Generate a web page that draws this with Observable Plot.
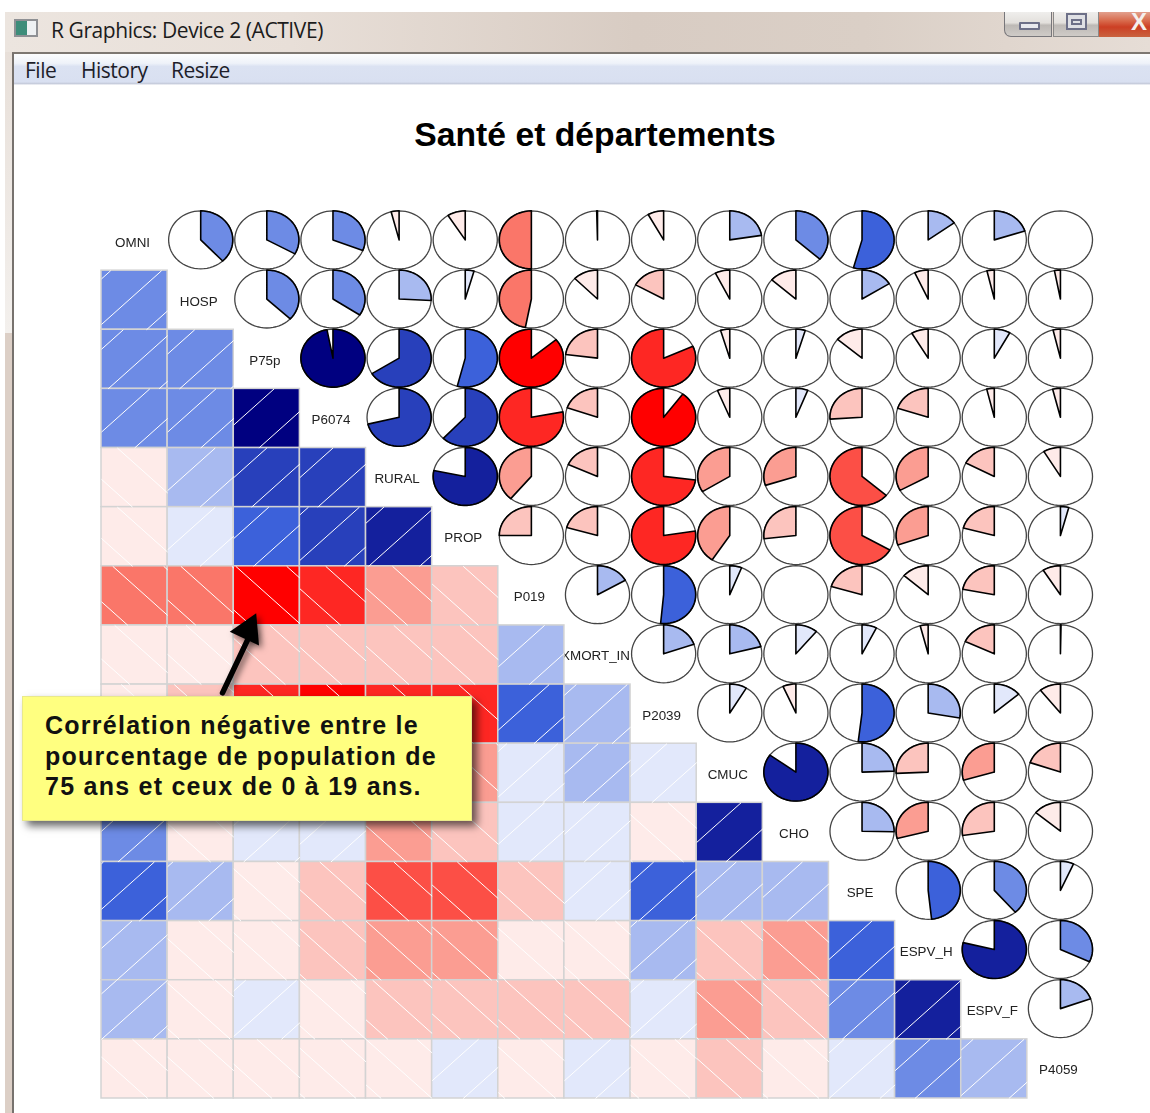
<!DOCTYPE html>
<html lang="fr">
<head>
<meta charset="utf-8">
<script src="https://cdn.jsdelivr.net/npm/d3@7"></script>
<script src="https://cdn.jsdelivr.net/npm/@observablehq/plot@0.6"></script>
<style>
  html, body { margin: 0; padding: 0; background: #fff; }
  #page { position: relative; width: 1150px; height: 1113px; overflow: hidden; font-family: "Liberation Sans", Arial, sans-serif; }
  #page > * { position: absolute; }
  #bandTop { left: 5px; top: 12px; width: 7px; height: 321px; background: linear-gradient(#e6ddd6, #f3f0ed); }
  #bandLow { left: 5px; top: 333px; width: 7px; height: 780px; background: #dccfc6; }
  #edge { left: 12px; top: 53px; width: 1.5px; height: 1060px; background: #77726e; }
  #titlebar { left: 5px; top: 12px; width: 1145px; height: 40px;
    background: linear-gradient(90deg, #ece5df 0, #e8dfd8 25%, #d8ccc3 55%, #dacfc6 75%, #e6ddd6 100%); }
  #titleline { left: 12px; top: 52px; width: 1138px; height: 2px; background: #7d7771; }
  #appicon { left: 14px; top: 19px; width: 24px; height: 18px; background: linear-gradient(90deg, #3d8d7a 0 55%, #eef1f3 55%); border: 2px solid #8e9094; box-sizing: border-box; }
  #wintitle { left: 51px; top: 18px; font: 21px "Open Sans", sans-serif; color: #1c1c1c; letter-spacing: -0.42px; white-space: nowrap; line-height: 24px; }
  #menubar { left: 13.5px; top: 54px; width: 1137px; height: 31px; background: linear-gradient(#fcfdfe 0, #eef2f9 30%, #dbe2f2 40%, #d9e0f1 90%, #c4cada 96%, #fff 100%); }
  .menu { top: 58px; font: 21px "Open Sans", sans-serif; color: #1e1e2a; letter-spacing: -0.5px; line-height: 24px; white-space: nowrap; }
  .btn { top: 12px; height: 25px; box-sizing: border-box; }
  #bmin { left: 1004px; width: 48px; border: 1px solid #77767a; border-top: 0; border-radius: 0 0 0 7px; background: linear-gradient(#efeeec 0, #e3e0dc 45%, #bdb9b5 55%, #cfcbc7 100%); }
  #bmax { left: 1053px; width: 46px; border: 1px solid #8a8988; border-top: 0; background: linear-gradient(#efeeec 0, #e3e0dc 45%, #bdb9b5 55%, #cfcbc7 100%); }
  #bclose { left: 1099px; width: 51px; background: linear-gradient(#e2a08d 0, #d86a4c 35%, #cc3f24 60%, #c9623f 100%); }
  #imin { left: 1019px; top: 22px; width: 21px; height: 8px; box-sizing: border-box; border: 2px solid #6d7088; background: #e8e9ee; border-radius: 1px; }
  #imax { left: 1066px; top: 13px; width: 21px; height: 17px; box-sizing: border-box; border: 2px solid #6d7088; background: #dfe0e4; }
  #imax2 { left: 1071px; top: 19px; width: 11px; height: 6px; box-sizing: border-box; border: 2px solid #6d7088; }
  #ix { left: 1131px; top: 7px; color: #f4f0ee; font: bold 24px "Liberation Sans", sans-serif; line-height: 30px; }
  #title { left: 295px; width: 600px; top: 114px; text-align: center; font: bold 33.7px/40px "Liberation Sans", Arial, sans-serif; color: #000; }
  #chart { left: 0; top: 0; }
  #chart svg { display: block; filter: blur(0.35px); }
  #chart svg g[aria-label="arrow"], #chart svg g[aria-label="dot"] { filter: drop-shadow(3px 3px 3px rgba(0,0,0,.55)); }
  #note { left: 22px; top: 696px; width: 450px; height: 125px; background: #ffff80; box-shadow: 5px 5px 8px rgba(0,0,0,.6); box-sizing: border-box; border: 1px solid #e9e98a; }
  #noteText { left: 45px; top: 710px; font: bold 25px/30.7px "Liberation Sans", Arial, sans-serif; color: #111; white-space: nowrap; letter-spacing: 1.25px; }
</style>
</head>
<body>
<div id="page">
  <div id="bandTop"></div><div id="bandLow"></div>
  <div id="titlebar"></div><div id="titleline"></div><div id="edge"></div>
  <div id="appicon"></div>
  <div id="wintitle">R Graphics: Device 2 (ACTIVE)</div>
  <div id="menubar"></div>
  <div class="menu" style="left:25px">File</div>
  <div class="menu" style="left:81px">History</div>
  <div class="menu" style="left:171px">Resize</div>
  <div class="btn" id="bmin"></div><div class="btn" id="bmax"></div><div class="btn" id="bclose"></div>
  <div id="imin"></div><div id="imax"></div><div id="imax2"></div><div id="ix">X</div>
  <div id="title">Santé et départements</div>
  <div id="chart"></div>
  <div id="note"></div>
  <div id="noteText">Corrélation négative entre le<br>pourcentage de population de<br>75 ans et ceux de 0 à 19 ans.</div>
</div>
<script>
// Variable names, in corrgram order
const variables = ["OMNI","HOSP","P75p","P6074","RURAL","PROP","P019","XMORT_IN","P2039","CMUC","CHO","SPE","ESPV_H","ESPV_F","P4059"];

// Correlations of each variable with those after it
const corOMNI  = [.38,.33,.31,-.04,-.09,-.5,-.004,-.08,.225,.366,.543,.15,.2,-.001];
const corHOSP  = [.37,.343,.258,.044,-.47,-.125,-.169,-.074,-.135,.161,-.069,-.037,-.03];
const corP75p  = [.97,.66,.54,-.86,-.23,-.817,-.046,.047,-.138,-.085,.08,-.037];
const corP6074 = [.712,.62,-.78,-.197,-.898,-.0625,.06,-.26,-.2,-.038,-.039];
const corRURAL = [.783,-.389,-.183,-.73,-.338,-.3,-.636,-.33,-.173,-.086];
const corPROP  = [-.25,-.205,-.775,-.408,-.268,-.667,-.303,-.208,.042];
const corP019  = [.167,.515,.06,.001,-.204,-.135,-.22,-.09];
const corXMORT = [.197,.21,.11,.074,-.04,-.18,.003];
const corP2039 = [.086,-.066,.519,.278,.137,-.107];
const corCMUC  = [.85,.245,-.257,-.295,-.197];
const corCHO   = [.253,-.29,-.274,-.139];
const corSPE   = [.483,.386,.067];
const corESPVH = [.788,.32];
const corESPVF = [.195];
const correlations = [corOMNI,corHOSP,corP75p,corP6074,corRURAL,corPROP,corP019,corXMORT,corP2039,corCMUC,corCHO,corSPE,corESPVH,corESPVF];

// Phase of the shading lines in each lower-triangle cell, row by row
const hatchPhase = [
  [.09],
  [-.1,-.18],
  [.27,.27,.39],
  [.24,.28,-.27,-.27],
  [.24,.28,-.3,.1,-.04],
  [.17,.2,.03,.39,.4,.47],
  [.2,.28,-.22,.4,-.35,.42,.3],
  [.3,.1,.4,.4,.4,.4,.23,.05],
  [.3,.3,.3,.3,.3,.2,.1,-.28,-.32],
  [-.25,-.35,-.15,.3,.38,.3,.3,-.3,-.2,.33],
  [.2,.15,-.12,.3,.42,.38,.3,.3,-.12,.4,-.37],
  [-.23,-.3,-.2,-.13,0,-.1,-.12,0,.13,-.1,-.13,.35],
  [0,-.05,.05,0,.1,.2,.1,.2,.03,-.2,-.05,-.2,0],
  [-.3,-.3,.35,-.15,0,.3,-.13,.3,-.1,-.32,-.15,0,-.3,.05]
];

// corrgram colour ramp: red - salmon - white - royalblue - navy, 14 classes over [-1, 1]
const palette = ["#ff0000","#fe2723","#fc4f46","#fa7669","#fb9d92","#fcc4be","#feebe9","#e2e8fb","#a8baf0","#6d8be5","#3c61da","#2840bb","#14209d","#000080"];
const breaks = d3.range(1, 14).map(i => -1 + i / 7);

const spacing = 0.77, radiusX = 0.485, radiusY = 0.49, steps = 64;

const cells = [], pies = [], labels = [];
variables.forEach((name, i) => labels.push({name, i}));
correlations.forEach((row, i) => row.forEach((r, k) => {
  const j = i + 1 + k;
  cells.push({row: j, col: i, r, phase: hatchPhase[j - 1][i]});
  pies.push({row: i, col: j, r});
}));

// Diagonal shading lines of a cell: rising for positive r, falling for negative
const hatch = cells.flatMap(({row, col, r, phase}) => {
  const out = [];
  for (let k = -3; k <= 3; ++k) {
    const c = phase + k * spacing;
    if (c <= -1 || c >= 1) continue;
    const a = Math.max(0, -c), b = Math.min(1, 1 - c);
    const X = u => col + (r > 0 ? u : 1 - u);
    out.push({x1: X(a), y1: row + 1 - (a + c), x2: X(b), y2: row + 1 - (b + c)});
  }
  return out;
});

// Outer circle and wedge of each pie, from its correlation
const circle = pies.flatMap((p, id) => d3.range(steps + 1).map(s => {
  const t = 2 * Math.PI * s / steps;
  return {id, x: p.col + .5 + radiusX * Math.sin(t), y: p.row + .48 - radiusY * Math.cos(t)};
}));
const wedge = pies.filter(p => Math.abs(p.r) >= .002).flatMap((p, id) => {
  const n = Math.max(1, Math.ceil(Math.abs(p.r) * steps));
  const pts = [{id, r: p.r, x: p.col + .5, y: p.row + .48}];
  for (let s = 0; s <= n; ++s) {
    const t = 2 * Math.PI * p.r * s / n;
    pts.push({id, r: p.r, x: p.col + .5 + radiusX * Math.sin(t), y: p.row + .48 - radiusY * Math.cos(t)});
  }
  pts.push(pts[0]);
  return pts;
});

// Annotation arrow: from the note to the P75p x P019 cell
const pointer = [{x1: 1.83, y1: 8.14, x2: 2.27, y2: 7.1, hx: 2.22, hy: 7.08}];

const chart = Plot.plot({
  width: 1150, height: 1113, margin: 0,
  style: {background: "transparent", overflow: "visible"},
  x: {domain: [0, 15], range: [101, 1093], axis: null},
  y: {domain: [0, 15], range: [211, 1098], axis: null},
  color: {type: "threshold", domain: breaks, range: palette},
  marks: [
    Plot.text(labels, {x: d => d.i + .5 - .03, y: d => d.i + .5 + .02, text: "name", fontSize: 13.4, fill: "#222", fontFamily: "Liberation Sans, Arial, sans-serif"}),
    Plot.rect(cells, {x1: "col", x2: d => d.col + 1, y1: "row", y2: d => d.row + 1, fill: "r", stroke: "#d3d3d3", strokeWidth: 1.5}),
    Plot.link(hatch, {x1: "x1", y1: "y1", x2: "x2", y2: "y2", stroke: "white", strokeWidth: 1}),
    Plot.line(circle, {x: "x", y: "y", z: "id", fill: "white", stroke: "#444", strokeWidth: 1.3}),
    Plot.line(wedge, {x: "x", y: "y", z: "id", fill: "r", stroke: "#000", strokeWidth: 1.6, strokeLinejoin: "round"}),
    Plot.arrow(pointer, {x1: "x1", y1: "y1", x2: "x2", y2: "y2", headLength: 0, stroke: "#000", strokeWidth: 5.5, bend: 0}),
    Plot.dot(pointer, {x: "hx", y: "hy", symbol: "triangle", r: 12, fill: "#000", rotate: 25})
  ]
});
document.getElementById("chart").appendChild(chart);
</script>
</body>
</html>
